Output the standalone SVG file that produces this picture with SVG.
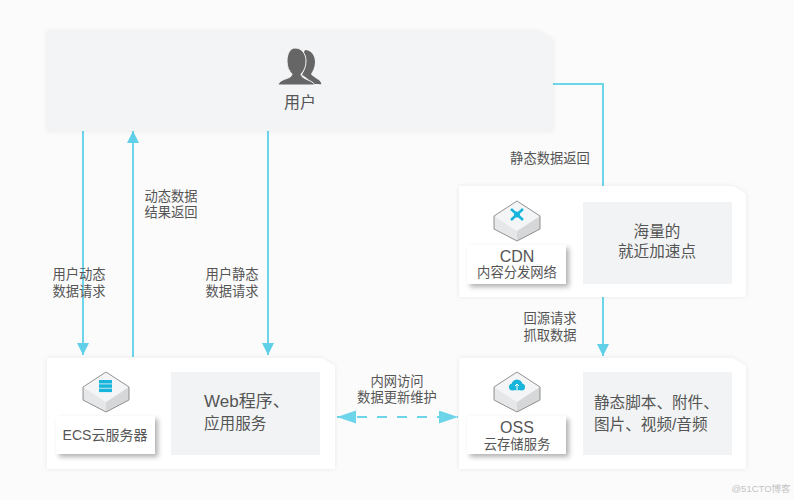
<svg xmlns="http://www.w3.org/2000/svg" width="794" height="500" viewBox="0 0 794 500">
<style>
text{font-family:"Liberation Sans","Noto Sans CJK SC",sans-serif;fill:#555;text-anchor:middle}
.t13{font-size:13.300px}.t14{font-size:14px}.t15{font-size:15.600px}.t16{font-size:16px}
.l{text-anchor:start}
.card{fill:#fff;filter:url(#soft)}
.panel{fill:#f1f3f4}
.lab{fill:#fff;filter:url(#lab)}
.c{stroke:#6dd5ea;stroke-width:2;fill:none}
.top{fill:#f4f5f6}.left{fill:#e6e7e8}.right{fill:#d6d7d8}
.edge{fill:none;stroke:#777;stroke-width:.8}
.ic{fill:#17b4dc}
</style>
<defs>
<filter id="soft" x="-5%" y="-10%" width="110%" height="120%"><feDropShadow dx="0" dy="0" stdDeviation="2" flood-color="#000" flood-opacity=".08"/></filter>
<filter id="lab" x="-15%" y="-20%" width="135%" height="150%"><feDropShadow dx="3" dy="3" stdDeviation="2.500" flood-color="#000" flood-opacity=".3"/></filter>
<marker id="a" markerUnits="userSpaceOnUse" markerWidth="13" markerHeight="13" refX="12" refY="6" orient="auto-start-reverse"><path d="M0 0L12 6L0 12z" fill="#5fd0e8"/></marker>
<marker id="b" markerUnits="userSpaceOnUse" markerWidth="20" markerHeight="14" refX="19" refY="6.500" orient="auto-start-reverse"><path d="M0 0L19 6.500L0 13z" fill="#6dd5ea"/></marker>
<g id="cube"><path class="top" d="M0 -24L23 -9L0 6L-23 -9z"/><path class="left" d="M-23 -9L0 6V16L-23 4z"/><path class="right" d="M23 -9L0 6V16L23 4z"/><path class="edge" d="M0 -24L23 -9V4L0 16L-23 4V-9z"/></g>
</defs>
<rect width="794" height="500" fill="#fbfbfb"/>
<g id="connectors">
<path class="c" d="M83 131V355" marker-end="url(#a)"/>
<path class="c" d="M133 357V131" marker-end="url(#a)"/>
<path class="c" d="M268 131V355" marker-end="url(#a)"/>
<path class="c" d="M553 84H603V186"/>
<path class="c" d="M603 297V356" marker-end="url(#a)"/>
<path class="c" d="M337 417H458" stroke-dasharray="10 10" marker-start="url(#b)" marker-end="url(#b)"/>
</g>
<g id="user">
<path d="M47 31H538L553 40V131H47z" fill="#f2f4f6" filter="url(#soft)"/>
<path d="M305 50c6 0 10 5 10 12 0 5-2 9-4 12 1 3 9 5 10 9 1 2-1 1-3 1h-7c-1-4-5-7-9-9 2-4 4-8 3-13-1-4-2-9 0-12z" fill="#666"/>
<path d="M295 48c7 0 11 6 11 13 0 6-2 10-5 13 0 4 6 5 11 8 3 2 3 3 1 3h-33c-2 0-2-2 1-4 5-3 11-3 11-7-3-3-5-7-5-13 0-7 3-13 8-13z" fill="#666" stroke="#f2f4f6" stroke-width="1"/>
<text class="t16" x="300" y="108">用户</text>
</g>
<g id="ecs">
<path class="card" d="M47 358H322L335 366V469H47z"/>
<rect class="panel" x="171" y="372" width="149" height="83"/>
<use href="#cube" x="106" y="396"/>
<g class="ic"><rect x="99" y="380" width="13" height="3.500"/><rect x="99" y="384.300" width="13" height="3.500"/><rect x="99" y="388.600" width="13" height="3.500"/></g>
<rect class="lab" x="56" y="416" width="99" height="38"/>
<text class="t14" x="105" y="440">ECS云服务器</text>
<text x="204" y="407" class="l" style="font-size:17px">Web程序、</text>
<text class="t15 l" x="204" y="429">应用服务</text>
</g>
<g id="cdn">
<path class="card" d="M459 186H733L746 194V297H459z"/>
<rect class="panel" x="583" y="202" width="149" height="82"/>
<use href="#cube" x="517" y="225"/>
<g stroke="#17b4dc" stroke-width="2.500"><path d="M511 209L523 220M523 209L511 220"/></g><circle class="ic" cx="517" cy="214.500" r="3"/>
<rect class="lab" x="467" y="245" width="99" height="39"/>
<text class="t16" x="517" y="262">CDN</text>
<text class="t13" x="517" y="277">内容分发网络</text>
<text class="t15" x="657" y="237">海量的</text>
<text class="t15" x="657" y="257">就近加速点</text>
</g>
<g id="oss">
<path class="card" d="M459 358H733L746 366V469H459z"/>
<rect class="panel" x="583" y="372" width="149" height="83"/>
<use href="#cube" x="517" y="396"/>
<circle class="ic" cx="517" cy="385" r="5.500"/><circle class="ic" cx="512.500" cy="387" r="3.500"/><circle class="ic" cx="521.500" cy="387" r="3.500"/><path d="M517 391V384M515 386L517 384L519 386" stroke="#fff" stroke-width="1" fill="none"/>
<rect class="lab" x="467" y="416" width="99" height="38"/>
<text class="t16" x="517" y="433">OSS</text>
<text class="t13" x="517" y="449">云存储服务</text>
<text class="t15 l" x="594" y="408">静态脚本、附件、</text>
<text class="t15 l" x="594" y="430">图片、视频/音频</text>
</g>
<g id="labels">
<text class="t13" x="79" y="279">用户动态</text><text class="t13" x="79" y="296">数据请求</text>
<text class="t13" x="171" y="201">动态数据</text><text class="t13" x="171" y="217">结果返回</text>
<text class="t13" x="232" y="279">用户静态</text><text class="t13" x="232" y="296">数据请求</text>
<text class="t13" x="550" y="163">静态数据返回</text>
<text class="t13" x="550" y="323">回源请求</text><text class="t13" x="550" y="340">抓取数据</text>
<text class="t13" x="397" y="386">内网访问</text><text class="t13" x="397" y="402">数据更新维护</text>
<text x="761" y="492" style="font-size:9.500px;fill:#c4c4c4">@51CTO博客</text>
</g>
</svg>
